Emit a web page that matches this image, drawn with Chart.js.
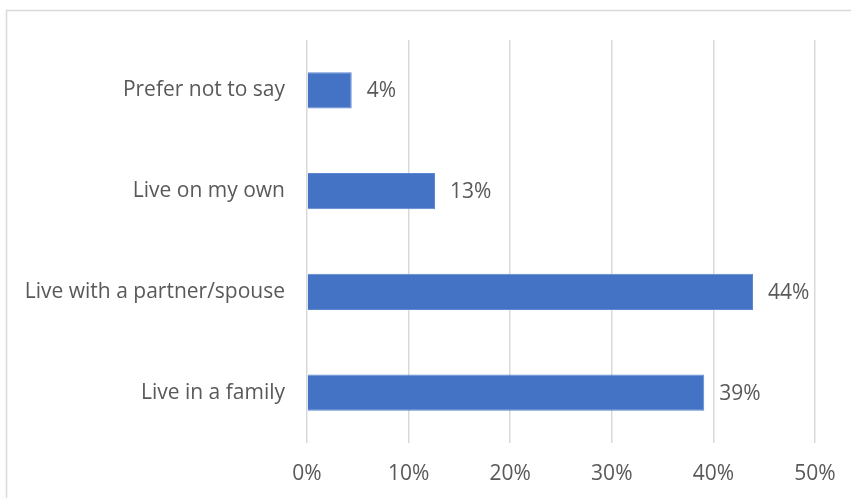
<!DOCTYPE html>
<html>
<head>
<meta charset="utf-8">
<script src="https://cdn.jsdelivr.net/npm/chart.js@4"></script>
<style>
  html, body { margin: 0; padding: 0; background: #fff; }
  #wrap { position: relative; width: 851px; height: 498px; }
</style>
</head>
<body>
<div id="wrap"><canvas id="chart" width="851" height="498"></canvas></div>
<script>
// data
const categories = ['Prefer not to say', 'Live on my own', 'Live with a partner/spouse', 'Live in a family'];
const shares = [4.4, 12.6, 43.9, 39.1];
const xTicks = [0, 10, 20, 30, 40, 50];

const textColor = '#595959';
const fontFamily = "'Open Sans', sans-serif";
const fontSize = 21;

// light frame round the chart, like the Office chart area
const framePlugin = {
  id: 'frame',
  beforeDraw(chart) {
    const ctx = chart.ctx;
    ctx.save();
    ctx.fillStyle = '#fff';
    ctx.fillRect(0, 0, chart.width, chart.height);
    ctx.strokeStyle = '#d9d9d9';
    ctx.lineWidth = 1.5;
    ctx.strokeRect(6.5, 10.5, 900, 600);
    ctx.restore();
  }
};

// value labels to the right of each bar
const valueLabels = {
  id: 'valueLabels',
  afterDatasetsDraw(chart) {
    const ctx = chart.ctx;
    const meta = chart.getDatasetMeta(0);
    ctx.save();
    ctx.font = fontSize + 'px ' + fontFamily;
    ctx.fillStyle = textColor;
    ctx.textAlign = 'left';
    ctx.textBaseline = 'middle';
    meta.data.forEach((bar, i) => {
      ctx.fillText(Math.round(shares[i]) + '%', bar.x + 15, bar.y + 1);
    });
    ctx.restore();
  }
};

new Chart(document.getElementById('chart'), {
  type: 'bar',
  data: {
    labels: categories,
    datasets: [{
      data: shares,
      backgroundColor: '#4472c4',
      borderColor: '#5b87cf',
      borderWidth: 1,
      categoryPercentage: 0.36,
      barPercentage: 1
    }]
  },
  options: {
    indexAxis: 'y',
    responsive: false,
    animation: false,
    layout: { padding: { top: 40, right: 36, left: 0, bottom: 0 } },
    plugins: {
      legend: { display: false },
      tooltip: { enabled: false }
    },
    scales: {
      x: {
        min: 0,
        max: 50,
        afterBuildTicks(scale) {
          scale.ticks = xTicks.map(v => ({ value: v }));
        },
        afterFit(scale) {
          scale.height = 55;
          scale.paddingLeft = 0;
          scale.paddingRight = 0;
        },
        border: { display: false },
        grid: { color: '#d9d9d9', lineWidth: 1.5, drawTicks: false },
        ticks: {
          padding: 18,
          color: textColor,
          font: { family: fontFamily, size: fontSize },
          callback: v => v + '%'
        }
      },
      y: {
        afterFit(scale) {
          scale.width = 307;
          scale.paddingTop = 0;
          scale.paddingBottom = 0;
        },
        border: { display: false },
        grid: { display: false, drawTicks: false },
        ticks: {
          padding: 22,
          color: textColor,
          font: { family: fontFamily, size: fontSize }
        }
      }
    }
  },
  plugins: [framePlugin, valueLabels]
});
</script>
</body>
</html>
